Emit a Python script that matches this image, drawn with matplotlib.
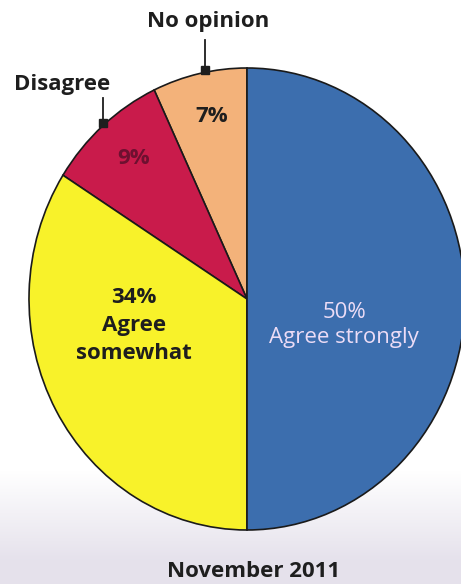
import matplotlib.pyplot as plt
import numpy as np

# data (counterclockwise from 12 o'clock)
labels = ["No opinion", "Disagree", "Agree somewhat", "Agree strongly"]
shares = [7, 9, 34, 50]
colors = ["#f3b27a", "#c91b4b", "#f8f22a", "#3c6eae"]

W, H = 461, 584
fig = plt.figure(figsize=(W / 100, H / 100), dpi=100)
fig.patch.set_facecolor("white")

# light textured strip at the bottom of the scan
bg = fig.add_axes([0, 0, 1, 1], zorder=0)
grad = np.ones((H, 1, 3))
rows = np.arange(H)
t = np.clip((rows - 470) / 90, 0, 1)[:, None]
tint = np.array([0.90, 0.885, 0.925])
grad[:, 0, :] = 1 - t * (1 - tint)
bg.imshow(grad, aspect="auto", extent=[0, 1, 0, 1], origin="upper")
bg.axis("off")

# pie, slightly taller than wide like the scan
cx, cy, rx, ry = 247, 299, 218, 231
ax = fig.add_axes([(cx - rx) / W, (H - cy - ry) / H, 2 * rx / W, 2 * ry / H], zorder=1)
wedges, _ = ax.pie(shares, colors=colors, startangle=90, counterclock=True,
                   wedgeprops=dict(edgecolor="#1a1a1a", linewidth=1.2))
ax.set_aspect("auto")
ax.set_xlim(-1, 1)
ax.set_ylim(-1, 1)
ax.patch.set_alpha(0)

fnt = "Open Sans"
dark = "#1e1e1e"
kw = dict(ha="center", va="center", family=fnt, fontsize=16, clip_on=False)

ax.text(-0.16, 0.79, "7%", color=dark, fontweight="bold", **kw)
ax.text(-0.52, 0.61, "9%", color="#6e1030", fontweight="bold", **kw)
ax.text(-0.52, -0.115, "34%\nAgree\nsomewhat", color=dark, fontweight="bold",
        linespacing=1.43, **kw)
ax.text(0.445, -0.113, "50%\nAgree strongly", color="#ecdcf6", linespacing=1.29, **kw)

# callouts
ax.text(-0.18, 1.20, labels[0], color=dark, fontweight="bold", **kw)
ax.plot([-0.193, -0.193], [1.12, 0.99], color=dark, lw=1.3, clip_on=False)
ax.plot([-0.193], [0.99], marker="s", ms=6, color=dark, clip_on=False)

ax.text(-0.846, 0.93, labels[1], color=dark, fontweight="bold", **kw)
ax.plot([-0.66, -0.66], [0.87, 0.76], color=dark, lw=1.3, clip_on=False)
ax.plot([-0.66], [0.76], marker="s", ms=6, color=dark, clip_on=False)

ax.text(0.03, -1.18, "November 2011", color=dark, fontweight="bold", **kw)

fig.savefig("out.png", dpi=100)
